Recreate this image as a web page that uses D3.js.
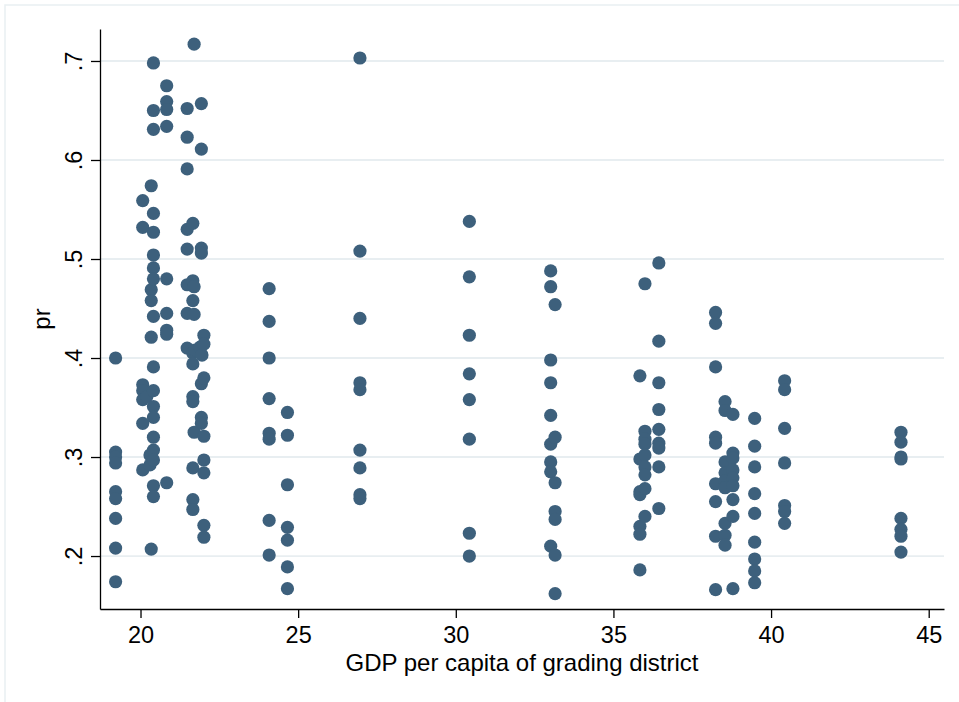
<!DOCTYPE html>
<html>
<head>
<meta charset="utf-8">
<script src="https://cdn.jsdelivr.net/npm/d3@7"></script>
<style>
    body { margin: 0; background: #fff; }
    text { font-family: "Liberation Sans", Arial, Helvetica, sans-serif; fill: #000; }
</style>
</head>
<body>
<div id="chart"></div>
<script>
// GDP per capita column values and pr readings for each grading district
const gdpColumns = [19.21, 20.07, 20.2, 20.3, 20.34, 20.41, 20.83, 21.48, 21.66, 21.70, 21.73, 21.89, 21.93, 21.95, 22.01,
    24.08, 24.66, 26.96, 30.43, 33.01, 33.15, 35.84, 36.00, 36.44, 38.24, 38.54, 38.79, 39.48, 40.43, 44.12];

const prValues = [
    [.400, .305, .300, .294, .265, .258, .238, .208, .174],
    [.559, .532, .373, .367, .358, .334, .287],
    [.361],
    [.302, .292],
    [.574, .469, .458, .421, .207],
    [.698, .650, .631, .546, .527, .504, .491, .480, .442, .391, .367, .351, .340, .320, .307, .297, .271, .260],
    [.675, .659, .651, .634, .480, .445, .428, .424, .274],
    [.652, .623, .591, .530, .510, .474, .445, .410],
    [.536, .478, .458, .405, .394, .361, .356, .289, .257, .247],
    [.717, .472, .444, .325],
    [.408],
    [.411],
    [.657, .611, .511, .506, .374, .340, .334],
    [.403],
    [.423, .414, .380, .321, .297, .284, .231, .219],
    [.470, .437, .400, .359, .324, .318, .236, .201],
    [.345, .322, .272, .229, .216, .189, .167],
    [.703, .508, .440, .375, .368, .307, .289, .262, .258],
    [.538, .482, .423, .384, .358, .318, .223, .200],
    [.488, .472, .398, .375, .342, .313, .295, .285, .210],
    [.454, .320, .274, .245, .237, .201, .162],
    [.382, .298, .265, .262, .230, .222, .186],
    [.475, .326, .318, .313, .302, .290, .282, .268, .240],
    [.496, .417, .375, .348, .328, .314, .309, .290, .248],
    [.446, .435, .391, .320, .314, .273, .255, .220, .166],
    [.356, .347, .295, .284, .276, .269, .233, .221, .211],
    [.343, .304, .299, .287, .279, .271, .257, .240, .167],
    [.339, .311, .290, .263, .243, .214, .197, .185, .173],
    [.377, .368, .329, .294, .251, .245, .233],
    [.325, .315, .300, .298, .238, .227, .220, .204]
];

const xTicks = [20, 25, 30, 35, 40, 45];
const yTicks = [.2, .3, .4, .5, .6, .7];

// flatten into points
const points = [];
gdpColumns.forEach((g, i) => {
    prValues[i].forEach(p => points.push({ gdp: g, pr: p }));
});

const width = 959, height = 702;
const plot = { left: 100, right: 944, top: 29, bottom: 609 };

const svg = d3.select('#chart')
    .append('svg')
    .attr('width', width)
    .attr('height', height);

svg.append('rect')
    .attr('width', width)
    .attr('height', height)
    .attr('fill', '#fff');

// light outer frame of the graph region
svg.append('rect')
    .attr('x', 5).attr('y', 5)
    .attr('width', 1000).attr('height', 1000)
    .attr('fill', 'none')
    .attr('stroke', '#e9eff2')
    .attr('stroke-width', 1.5);

const x = d3.scaleLinear()
    .domain([18.715, 45.485])
    .range([plot.left, plot.right]);

const y = d3.scaleLinear()
    .domain([0.1465, 0.7323])
    .range([plot.bottom, plot.top]);

// gridlines
svg.append('g')
    .selectAll('line')
    .data(yTicks)
    .enter()
    .append('line')
    .attr('x1', plot.left)
    .attr('x2', plot.right)
    .attr('y1', d => y(d))
    .attr('y2', d => y(d))
    .attr('stroke', '#e8eef1')
    .attr('stroke-width', 1.8);

// markers
svg.append('g')
    .selectAll('circle')
    .data(points)
    .enter()
    .append('circle')
    .attr('cx', d => x(d.gdp))
    .attr('cy', d => y(d.pr))
    .attr('r', 6.6)
    .attr('fill', '#3d607c');

// x axis
const xAxis = svg.append('g')
    .attr('transform', `translate(0, ${plot.bottom})`)
    .call(d3.axisBottom(x).tickValues(xTicks).tickSize(9).tickSizeOuter(0).tickPadding(8));

xAxis.selectAll('text')
    .style('font-size', '23.5px');

// y axis with rotated labels
const yFormat = d => d3.format('.1f')(d).replace(/^0/, '');
const yAxis = svg.append('g')
    .attr('transform', `translate(${plot.left}, 0)`)
    .call(d3.axisLeft(y).tickValues(yTicks).tickFormat(yFormat).tickSize(9).tickSizeOuter(0));

yAxis.selectAll('text')
    .attr('transform', 'rotate(-90)')
    .attr('x', 0)
    .attr('y', -18)
    .attr('dy', 0)
    .attr('text-anchor', 'middle')
    .style('font-size', '23.5px');

svg.selectAll('.domain, .tick line')
    .attr('stroke', '#000')
    .attr('stroke-width', 1.3);

svg.selectAll('.tick text').attr('fill', '#000');
svg.selectAll('g').attr('font-family', null).attr('font-size', null);

// axis titles
svg.append('text')
    .attr('x', (plot.left + plot.right) / 2)
    .attr('y', 671)
    .attr('text-anchor', 'middle')
    .style('font-size', '24px')
    .text('GDP per capita of grading district');

svg.append('text')
    .attr('transform', `translate(50, ${(plot.top + plot.bottom) / 2}) rotate(-90)`)
    .attr('text-anchor', 'middle')
    .style('font-size', '24px')
    .text('pr');
</script>
</body>
</html>
